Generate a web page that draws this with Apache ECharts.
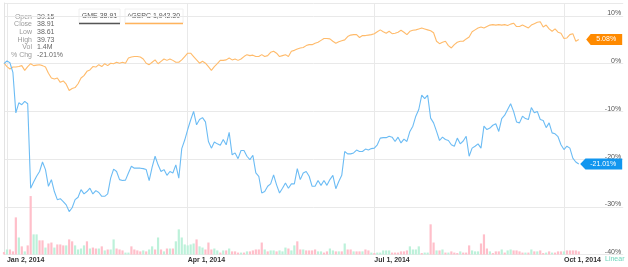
<!DOCTYPE html>
<html><head><meta charset="utf-8">
<script src="https://cdn.jsdelivr.net/npm/echarts@6/dist/echarts.min.js"></script>
<style>html,body{margin:0;padding:0;background:#fff}#c{width:628px;height:267px}</style>
</head><body><div id="c"></div>
<script>
// ---- data ----
const holidays = ['2014-01-01','2014-01-20','2014-02-17','2014-04-18','2014-05-26','2014-07-04','2014-09-01'];
const firstDate = '2013-12-31';
const tickDates = ['2014-01-02','2014-04-01','2014-07-01','2014-10-01'];
const tickLabels = ['Jan 2, 2014','Apr 1, 2014','Jul 1, 2014','Oct 1, 2014'];
const yTicks = [-40, -30, -20, -10, 0, 10];

// GME % change (Dec 31 2013 .. Oct 8 2014)
const gme = [
 0.0, 0.6, 0.2, -1.8, -10.3, -8.2, -8.6, -7.9, -8.4, -26.1,
 -24.8, -23.6, -22.6, -20.6, -22.2, -25.7, -24.3, -26.8, -28.5, -28.3,
 -28.9, -29.6, -31.0, -30.2, -28.5, -28.0, -26.4, -27.3, -26.8, -26.1,
 -27.3, -26.6, -27.0, -27.8, -27.8, -27.3, -24.0, -22.1, -22.6, -24.3,
 -24.5, -24.4, -22.9, -21.5, -21.9, -21.9, -21.9, -22.0, -22.2, -24.5,
 -21.7, -19.4, -21.2, -22.6, -22.2, -23.4, -22.6, -22.9, -21.2, -24.0,
 -17.8, -16.0, -13.8, -11.8, -10.0, -12.8, -11.7, -11.3, -12.2, -16.3,
 -17.7, -16.4, -16.8, -17.1, -15.9, -17.0, -14.4, -19.1, -18.7, -19.9,
 -18.2, -18.2, -19.4, -20.1, -19.2, -22.9, -23.6, -27.1, -26.8, -25.7,
 -25.2, -23.3, -25.4, -27.1, -26.1, -25.0, -26.1, -25.2, -25.2, -22.0,
 -24.3, -22.9, -22.6, -23.6, -25.7, -25.7, -24.5, -25.5, -24.5, -25.5,
 -24.3, -23.4, -26.2, -24.7, -23.4, -18.4, -18.9, -18.9, -18.7, -18.1,
 -18.4, -18.4, -17.9, -18.1, -17.8, -17.7, -17.0, -15.6, -15.5, -15.5,
 -15.2, -15.4, -16.3, -15.4, -16.6, -15.8, -16.3, -14.2, -13.1, -11.0,
 -9.6, -6.6, -7.3, -6.6, -11.4, -12.4, -14.2, -16.1, -15.4, -15.9,
 -16.1, -17.0, -17.3, -15.6, -16.8, -16.2, -15.2, -19.4, -17.7, -17.3,
 -16.8, -17.7, -13.1, -13.8, -13.5, -12.9, -12.6, -14.2, -11.5, -10.8,
 -9.6, -8.4, -10.0, -12.2, -12.4, -11.0, -11.5, -11.7, -9.2, -10.3,
 -10.0, -11.7, -11.9, -13.4, -12.4, -14.5, -14.7, -15.3, -17.0, -18.0,
 -17.3, -17.7, -19.8, -20.6, -21.01
];
// ^GSPC % change
const gspc = [
 0.15, -0.6, -1.1, -0.7, -0.7, -0.6, -0.4, -1.4, -0.6, 0.0,
 -0.4, -0.3, -0.2, -0.4, -0.7, -2.0, -3.0, -3.2, -3.0, -3.9,
 -3.6, -4.3, -5.6, -5.2, -5.0, -4.2, -3.0, -2.5, -1.6, -1.3,
 -0.6, -0.7, -0.2, -0.6, 0.0, -0.4, 0.1, 0.0, 0.3, 0.1,
 0.3, 0.1, 1.2, 1.4, 1.5, 1.5, 1.4, 1.0, 0.1, -0.2,
 0.3, 0.8, 0.0, 0.5, 1.0, 0.7, 1.0, 0.7, 0.3, 0.3,
 0.8, 1.5, 2.2, 2.2, 1.5, 0.8, 0.1, 0.5, 0.1, -0.6,
 -1.4, -0.6, 0.0, 0.7, 0.7, 0.8, 1.2, 0.8, 1.0, 0.7,
 1.0, 1.5, 1.9, 1.7, 1.8, 1.5, 1.5, 1.9, 1.5, 1.7,
 2.4, 2.6, 2.2, 1.5, 1.7, 1.9, 1.5, 2.6, 2.8, 3.1,
 3.3, 3.4, 3.8, 4.0, 4.0, 4.3, 4.5, 4.9, 5.3, 5.3,
 5.2, 4.7, 4.3, 4.6, 4.8, 5.0, 5.7, 6.0, 6.1, 6.1,
 5.5, 5.9, 5.9, 6.0, 6.1, 6.3, 6.7, 7.1, 6.7, 6.4,
 6.8, 6.3, 6.4, 6.6, 7.0, 6.6, 6.1, 6.8, 7.0, 7.1,
 7.3, 7.5, 7.3, 7.1, 6.9, 6.5, 4.7, 4.2, 4.5, 4.7,
 3.8, 3.3, 4.0, 4.5, 4.7, 4.7, 5.2, 5.6, 6.7, 7.1,
 7.5, 7.7, 7.5, 7.8, 8.1, 8.2, 8.1, 8.2, 8.1, 8.2,
 8.0, 8.3, 8.5, 7.8, 7.8, 8.1, 7.8, 7.5, 8.1, 8.4,
 8.7, 8.8, 7.7, 8.1, 7.3, 6.8, 7.3, 6.6, 6.4, 5.3,
 5.4, 6.1, 6.3, 4.7, 5.08
];
// GME volume (millions)
const volume = [
 1.0, 2.1, 2.1, 1.3, 15.5, 7.1, 3.4, 1.3, 3.8, 24.4,
 8.4, 8.4, 5.9, 5.9, 2.9, 4.6, 5.0, 2.9, 4.2, 4.2,
 3.8, 3.8, 6.3, 5.5, 3.8, 2.1, 2.5, 3.8, 5.5, 2.5,
 2.9, 2.5, 2.5, 3.4, 1.7, 2.1, 2.1, 6.3, 2.5, 2.1,
 1.7, 0.8, 0.8, 3.4, 2.1, 1.7, 1.3, 1.7, 1.3, 2.1,
 3.4, 2.1, 7.1, 2.1, 1.3, 2.5, 2.5, 2.5, 5.5, 10.5,
 7.1, 4.2, 3.8, 4.2, 4.6, 6.3, 3.4, 2.9, 2.1, 5.0,
 2.1, 2.5, 1.7, 0.8, 1.7, 1.7, 2.5, 1.3, 1.3, 0.8,
 0.8, 0.8, 1.3, 1.3, 1.7, 2.1, 2.1, 5.0, 2.1, 1.3,
 1.7, 1.7, 1.3, 1.7, 1.3, 2.9, 2.5, 1.7, 3.8, 5.5,
 2.1, 2.1, 1.7, 1.7, 1.7, 2.1, 1.3, 1.3, 0.8, 1.3,
 2.5, 1.7, 1.3, 1.3, 1.3, 4.6, 2.1, 2.1, 1.3, 1.3,
 1.3, 1.3, 2.1, 1.7, 0.8, 0.6, 0.8, 0.8, 1.7, 1.7,
 1.7, 0.8, 0.8, 0.8, 1.3, 1.3, 1.7, 3.4, 2.1, 2.1,
 3.4, 0.6, 0.8, 0.8, 12.6, 5.0, 1.7, 1.7, 2.1, 0.8,
 0.8, 1.3, 0.8, 0.6, 1.3, 0.8, 0.8, 3.8, 1.7, 1.3,
 1.3, 4.6, 8.4, 2.5, 1.3, 0.6, 1.3, 1.3, 2.1, 0.8,
 1.7, 2.1, 1.7, 1.7, 1.3, 0.8, 0.8, 0.8, 2.1, 1.3,
 1.3, 1.7, 0.6, 0.8, 1.3, 0.8, 0.8, 1.3, 1.3, 1.3,
 1.7, 1.7, 1.7, 1.7, 1.3
];
// u = up day, d = down day (one letter per volume value)
const volDir = [
 'dudddududd', 'uudduddudd', 'dudduuuudu', 'ddududuudd', 'duuddddudu',
 'ududududuu', 'uuuuuduudd', 'duudududdd', 'ududddddud', 'uuduuuduud',
 'dudddduudd', 'uudududdud', 'dudduduuuu', 'udddddduuu', 'uduuddudud',
 'uddduddduu', 'udddudddud', 'uuddddudud', 'uddududddu', 'ddddd'
].join('').split('');

const legendItems = [['GME', '38.91'], ['^GSPC', '1,942.30']];
const infoLabels = ['Open', 'Close', 'Low', 'High', 'Vol', '% Chg'];
const infoValues = ['39.15', '38.91', '38.61', '39.73', '1.4M', '-21.01%'];

// ---- build trading-day categories ----
function tradingDays(start, count) {
  const out = [];
  const d = new Date(start + 'T00:00:00Z');
  while (out.length < count) {
    const iso = d.toISOString().slice(0, 10);
    const wd = d.getUTCDay();
    if (wd !== 0 && wd !== 6 && holidays.indexOf(iso) < 0) out.push(iso);
    d.setUTCDate(d.getUTCDate() + 1);
  }
  return out;
}
const dates = tradingDays(firstDate, gme.length);
const pad = [];
for (let i = 1; i <= 15; i++) pad.push('pad' + i);
const categories = dates.concat(pad);
const lastCat = categories[categories.length - 1];

const tickIdx = tickDates.map(t => categories.indexOf(t));
const isTick = (i) => tickIdx.indexOf(i) >= 0;

const COL = {
  gme: '#6cbcf4', gspc: '#ffbb6b', up: '#bdf1da', down: '#ffbfca',
  gmeBadge: '#1196ef', gspcBadge: '#ff8a00', grid: '#e9e9e9'
};

const volData = volume.map((v, i) => ({
  value: v,
  itemStyle: { color: volDir[i] === 'u' ? COL.up : COL.down }
}));

function badge(series, color, width) {
  const last = series[series.length - 1];
  const txt = (Math.round(last * 100) / 100).toFixed(2) + '%';
  return {
    silent: true,
    animation: false,
    data: [{
      coord: [lastCat, last],
      symbol: 'path://M0,5 L5,0 L40,0 L40,10 L5,10 Z',
      symbolSize: [width, 11],
      symbolOffset: [-width / 2 - 1, 0],
      itemStyle: { color: color },
      label: {
        show: true, position: 'inside', formatter: txt, color: '#fff',
        fontSize: 7, fontFamily: 'Liberation Sans, Arial', offset: [2, 0]
      }
    }]
  };
}

const FONT = '7px "Liberation Sans", Arial';
const graphics = [];
infoLabels.forEach((l, i) => {
  graphics.push({ type: 'text', x: 32, y: 16.7 + i * 7.7,
    style: { text: l, fill: '#9a9a9a', font: FONT, textAlign: 'right', textVerticalAlign: 'middle' } });
  graphics.push({ type: 'text', x: 37, y: 16.7 + i * 7.7,
    style: { text: infoValues[i], fill: '#666', font: FONT, textAlign: 'left', textVerticalAlign: 'middle' } });
});
const legendBoxes = [[79, 41, '#555'], [125, 58, '#ffb35c']];
legendItems.forEach((it, i) => {
  const [x, w, c] = legendBoxes[i];
  graphics.push({ type: 'rect', shape: { x: x, y: 9, width: w, height: 14 },
    style: { fill: '#fff', stroke: '#f0f0f0', lineWidth: 1 } });
  graphics.push({ type: 'line', shape: { x1: x, y1: 23.5, x2: x + w, y2: 23.5 },
    style: { stroke: c, lineWidth: 1.5 } });
  graphics.push({ type: 'text', x: x + w / 2, y: 16.5,
    style: { text: it[0] + ' ' + it[1], fill: '#555', font: FONT, textAlign: 'center', textVerticalAlign: 'middle' } });
});
graphics.push({ type: 'text', x: 605, y: 259.5, z: 100,
  style: { text: 'Linear', fill: '#6fd6bd', font: FONT, textAlign: 'left', textVerticalAlign: 'middle' } });

const chart = echarts.init(document.getElementById('c'), null, { renderer: 'canvas' });
chart.setOption({
  animation: false,
  textStyle: { fontFamily: 'Liberation Sans, Arial' },
  grid: { left: 4, right: 4.8, top: 3, bottom: 12.5, containLabel: false },
  xAxis: {
    type: 'category', data: categories, boundaryGap: false,
    axisLine: { show: false }, axisTick: { show: false },
    axisLabel: {
      interval: (i) => isTick(i), align: 'left', margin: 2,
      color: '#333', fontSize: 7, fontWeight: 'bold',
      formatter: (v) => { const k = tickDates.indexOf(v); return k >= 0 ? tickLabels[k] : ''; }
    },
    splitLine: { show: true, interval: (i) => isTick(i), lineStyle: { color: COL.grid, width: 1 } }
  },
  yAxis: [{
    type: 'value', position: 'right', min: yTicks[0], max: 12.73, interval: 10,
    axisLine: { show: false }, axisTick: { show: false },
    axisLabel: { inside: true, margin: 2, fontSize: 7, color: '#555', verticalAlign: 'bottom',
      lineHeight: 5,
      showMaxLabel: false, formatter: (v) => yTicks.indexOf(v) >= 0 ? v + '%' : '' },
    splitLine: { lineStyle: { color: COL.grid, width: 1 } }
  }, {
    type: 'value', position: 'left', min: 0, max: 105,
    axisLine: { show: true, lineStyle: { color: '#e3e3e3' } }, axisTick: { show: false },
    axisLabel: { show: false }, splitLine: { show: false }
  }],
  series: [{
    type: 'bar', yAxisIndex: 1, data: volData, barWidth: 2.2, silent: true
  }, {
    type: 'line', name: '^GSPC', data: gspc, yAxisIndex: 0, symbol: 'none', showSymbol: false,
    lineStyle: { color: COL.gspc, width: 1.1 }, z: 3,
    markPoint: badge(gspc, COL.gspcBadge, 36)
  }, {
    type: 'line', name: 'GME', data: gme, yAxisIndex: 0, symbol: 'none', showSymbol: false,
    lineStyle: { color: COL.gme, width: 1.1 }, z: 4,
    markPoint: badge(gme, COL.gmeBadge, 42)
  }],
  graphic: graphics
});
</script></body></html>
